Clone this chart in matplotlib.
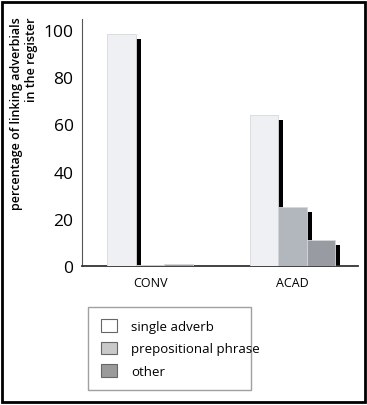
import matplotlib.pyplot as plt
import numpy as np
from matplotlib.patches import Patch, Rectangle

registers = ['CONV', 'ACAD']
series = ['single adverb', 'prepositional phrase', 'other']
single_adverb = [98, 64]
prepositional_phrase = [0.4, 25]
other = [1, 11]

bar_colors = ['#eef0f4', '#b2b6bd', '#989ba2']
legend_colors = ['#ffffff', '#c9c9c9', '#9a9a9a']

plt.rcParams['font.family'] = ['Open Sans', 'DejaVu Sans']

fig = plt.figure(figsize=(3.67, 4.06), dpi=100)
ax = fig.add_axes([0.223, 0.342, 0.752, 0.609])

x = np.arange(len(registers))
w = 0.2
offsets = [-w, 0, w]
data = [single_adverb, prepositional_phrase, other]

for vals, off, col in zip(data, offsets, bar_colors):
    # dark drop shadow on the right side, then the bar itself
    ax.bar(x + off + 0.035, np.array(vals) - 2, width=w, color='black', zorder=2)
    ax.bar(x + off, vals, width=w, color=col, edgecolor='#d8d8d8',
           linewidth=0.6, zorder=3)

ax.set_xlim(-0.48, 1.46)
ax.set_ylim(0, 104.6)
ax.set_yticks([0, 20, 40, 60, 80, 100])
ax.set_xticks(x)
ax.set_xticklabels(registers, fontsize=9)
ax.tick_params(axis='y', length=0, pad=6, labelsize=12.5)
ax.tick_params(axis='x', length=0, pad=7)
for s in ['top', 'right']:
    ax.spines[s].set_visible(False)
ax.spines['left'].set_color('#555555')
ax.spines['left'].set_linewidth(0.8)
ax.spines['bottom'].set_color('#333333')
ax.spines['bottom'].set_linewidth(1.3)

fig.text(0.066, 0.72, 'percentage of linking adverbials\nin the register',
         rotation=90, ha='center', va='center', multialignment='right',
         fontsize=9, fontweight='semibold', linespacing=1.2)

handles = [Patch(facecolor=c, edgecolor='#666666', linewidth=0.8) for c in legend_colors]
leg = fig.legend(handles, series, loc='lower left',
                 bbox_to_anchor=(0.223, 0.02, 0.48, 0.221), mode='expand',
                 fontsize=9.5, frameon=True, fancybox=False,
                 handlelength=1.2, handleheight=1.1, handletextpad=1.1,
                 labelspacing=0.65, borderpad=0.95)
leg.get_frame().set_edgecolor('#888888')
leg.get_frame().set_linewidth(1.0)

fig.patches.append(Rectangle((0.006, 0.008), 0.988, 0.985, transform=fig.transFigure,
                             fill=False, edgecolor='black', linewidth=2))

fig.savefig('out.png', dpi=100)
